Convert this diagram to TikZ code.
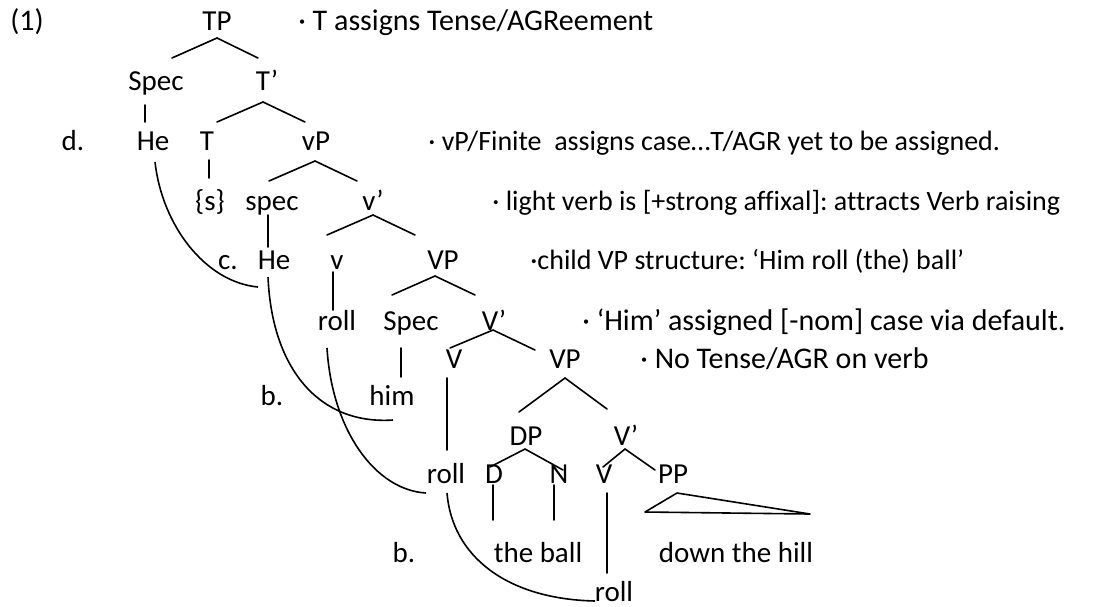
\documentclass[tikz,border=0pt]{standalone}
\usepackage{fontspec}
\setmainfont{Carlito}[Ligatures=NoCommon]
\usetikzlibrary{calc}
\frenchspacing

\begin{document}
\begin{tikzpicture}[
    x=0.5pt, y=-0.5pt,
    lab/.style={font=\fontsize{14.5}{18}\selectfont, inner sep=0pt, anchor=base},
    note/.style={lab, font=\fontsize{15}{18}\selectfont, anchor=base west},
    smallnote/.style={note, font=\fontsize{14}{18}\selectfont},
    branch/.style={line width=0.8pt, line cap=round},
    move/.style={line width=0.8pt}
  ]
    \useasboundingbox (0,0) rectangle (1095,606);
    \node[note] (ex) at (10,30) {(1)};
    \node[lab] (TP) at (217,30) {TP};
    \node[note] (n1) at (298,30) {· T assigns Tense/AGReement};
    \node[lab] (Spec1) at (156,90) {Spec};
    \node[lab] (Tbar) at (267,90) {T’};
    \node[lab] (d) at (73,150) {d.};
    \node[lab] (He1) at (153,150) {He};
    \node[lab] (T) at (207,150) {T};
    \node[lab] (vP) at (316,150) {vP};
    \node[smallnote] (n2) at (428,150) {· vP/Finite\ \ assigns case…T/AGR yet to be assigned.};
    \node[lab] (s) at (210,210) {\{s\}};
    \node[lab] (spec2) at (272,210) {spec};
    \node[lab] (vbar) at (373,210) {v’};
    \node[smallnote] (n3) at (492,210) {· light verb is [+strong affixal]: attracts Verb raising};
    \node[lab] (c) at (228,269) {c.};
    \node[lab] (He2) at (274,269) {He};
    \node[lab] (v) at (337,269) {v};
    \node[lab] (VP1) at (443,269) {VP};
    \node[smallnote] (n4) at (530,269) {·child VP structure: ‘Him roll (the) ball’};
    \node[lab] (roll1) at (337,330) {roll};
    \node[lab] (Spec3) at (411,330) {Spec};
    \node[lab] (Vbar1) at (494,330) {V’};
    \node[note] (n5) at (582,330) {· ‘Him’ assigned [-nom] case via default.};
    \node[lab] (V1) at (454,368) {V};
    \node[lab] (VP2) at (565,368) {VP};
    \node[note] (n6) at (640,368) {· No Tense/AGR on verb};
    \node[lab] (b1) at (272,405) {b.};
    \node[lab] (him) at (392,405) {him};
    \node[lab] (DP) at (526,445) {DP};
    \node[lab] (Vbar2) at (626,445) {V’};
    \node[lab] (roll2) at (446,483) {roll};
    \node[lab] (D) at (494,483) {D};
    \node[lab] (N) at (559,483) {N};
    \node[lab] (V2) at (604,483) {V};
    \node[lab] (PP) at (673,483) {PP};
    \node[lab] (b2) at (404,562) {b.};
    \node[lab] (ball) at (538,562) {the ball};
    \node[lab] (hill) at (736,562) {down the hill};
    \node[lab] (roll3) at (614,601) {roll};
    \draw[branch] ($(Spec1.base)+(16,-32)$) -- ($(TP.base)+(0,8)$) -- ($(Tbar.base)+(-9,-32)$);
    \draw[branch] ($(Spec1.base)+(-11,15)$) -- ($(He1.base)+(-8,-28)$);
    \draw[branch] ($(T.base)+(10,-28)$) -- ($(Tbar.base)+(-4,12)$) -- ($(vP.base)+(-11,-28)$);
    \draw[branch] ($(T.base)+(2,10)$) -- ($(s.base)+(-1,-32)$);
    \draw[branch] ($(spec2.base)+(-3,-29)$) -- ($(vP.base)+(-1,11)$) -- ($(vbar.base)+(-16,-29)$);
    \draw[branch] ($(spec2.base)+(-4,5)$) -- ($(He2.base)+(-6,-22)$);
    \draw[branch] ($(v.base)+(-10,-34)$) -- ($(vbar.base)+(0,5)$) -- ($(VP1.base)+(-28,-34)$);
    \draw[branch] ($(v.base)+(-4,3)$) -- ($(roll1.base)+(-4,-20)$);
    \draw[branch] ($(Spec3.base)+(-19,-35)$) -- ($(VP1.base)+(-8,7)$) -- ($(Vbar1.base)+(-19,-35)$);
    \draw[branch] ($(Spec3.base)+(-10,18)$) -- ($(him.base)+(9,-28)$);
    \draw[branch] ($(V1.base)+(-4,-20)$) -- ($(Vbar1.base)+(-1,0)$) -- ($(VP2.base)+(-30,-18)$);
    \draw[branch] ($(V1.base)+(-7,10)$) -- ($(roll2.base)+(1,-33)$);
    \draw[branch] ($(DP.base)+(-7,-33)$) -- ($(VP2.base)+(0,10)$) -- ($(Vbar2.base)+(-19,-36)$);
    \draw[branch] ($(D.base)+(-4,-16)$) -- ($(DP.base)+(-1,4)$) -- ($(N.base)+(4,-13)$);
    \draw[branch] ($(V2.base)+(-1,-16)$) -- ($(Vbar2.base)+(-1,4)$) -- ($(PP.base)+(-18,-13)$);
    \draw[branch] ($(D.base)+(-1,2)$) -- ($(ball.base)+(-45,-42)$);
    \draw[branch] ($(N.base)+(-5,2)$) -- ($(ball.base)+(16,-42)$);
    \draw[branch] ($(V2.base)+(3,10)$) -- ($(roll3.base)+(-7,-28)$);
    \draw[branch, line join=round] ($(PP.base)+(4,10)$) -- ($(hill.base)+(-91,-50)$) -- ($(hill.base)+(74,-48)$) -- cycle;
    \draw[move] ($(He1.base)+(2,12)$) .. controls (162,225) and (205,282) .. ($(He2.base)+(-16,18)$);
    \draw[move] ($(He2.base)+(-6,8)$) .. controls (272,370) and (320,425) .. ($(him.base)+(1,15)$);
    \draw[move] ($(roll1.base)+(-10,18)$) .. controls (332,430) and (375,490) .. ($(roll2.base)+(-20,10)$);
    \draw[move] ($(roll2.base)+(1,10)$) .. controls (452,555) and (505,599) .. ($(roll3.base)+(-19,0)$);
\end{tikzpicture}
\end{document}
